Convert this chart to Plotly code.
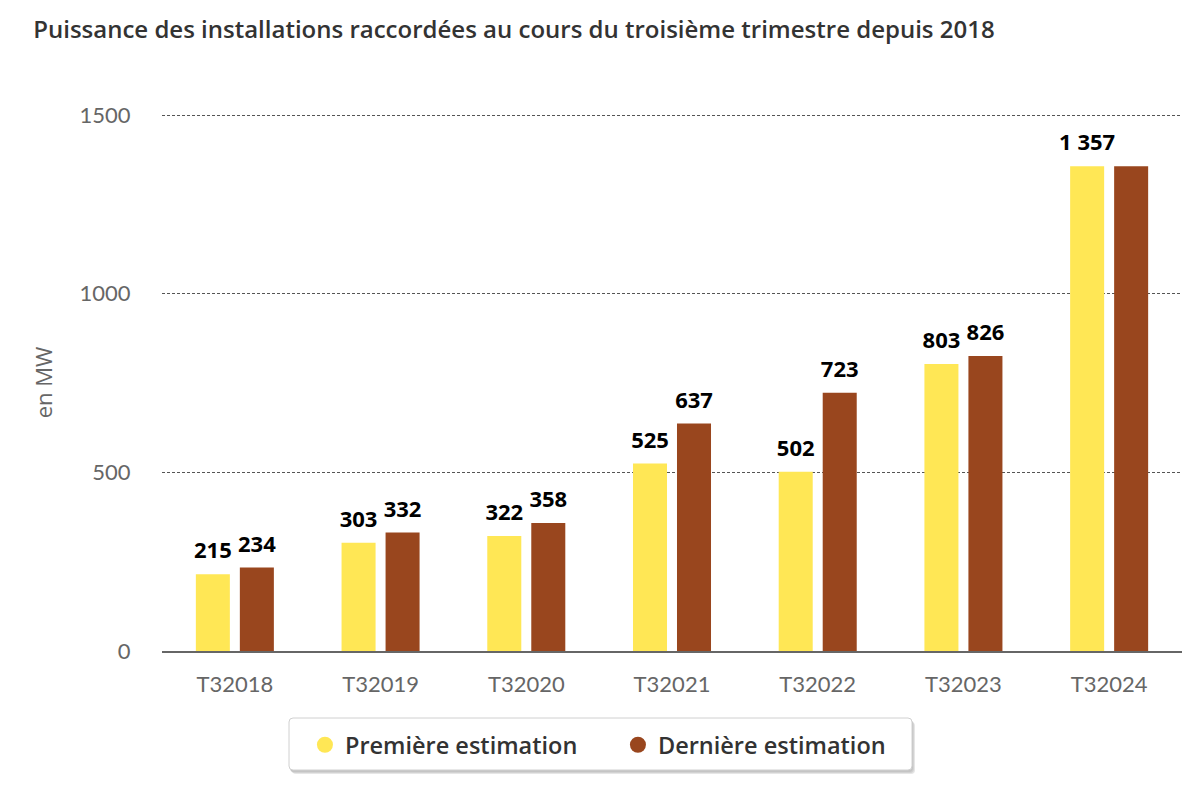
import plotly.graph_objects as go

categories = ["T32018", "T32019", "T32020", "T32021", "T32022", "T32023", "T32024"]
premiere = [215, 303, 322, 525, 502, 803, 1357]
derniere = [234, 332, 358, 637, 723, 826, 1357]
series_names = ["Première estimation", "Dernière estimation"]
colors = ["#FFE755", "#99461E"]


def fmt(v):
    return f"{v:,}".replace(",", " ")


prem_text = [fmt(v) for v in premiere]
# last brown label overlaps the yellow one in the reference, so it is hidden
dern_text = [fmt(v) if v != p else "" for v, p in zip(derniere, premiere)]

BARGAP = 0.396
fig = go.Figure()
for i, (name, vals, txt, col) in enumerate([
    (series_names[0], premiere, prem_text, colors[0]),
    (series_names[1], derniere, dern_text, colors[1]),
]):
    fig.add_trace(go.Bar(
        x=categories, y=vals, name=name, marker_color=col, marker_line_width=0,
        offsetgroup=str(i), showlegend=False, hoverinfo="x+y",
    ))
    # value labels, grouped like the bars
    fig.add_trace(go.Scatter(
        x=categories, y=vals, mode="markers+text", text=txt, textposition="top center",
        offsetgroup=str(i), cliponaxis=False, showlegend=False, hoverinfo="skip",
        marker=dict(size=15, color="rgba(0,0,0,0)"),
        textfont=dict(family="Open Sans", size=22, color="#000000", weight=700),
    ))
    # legend entries with round symbols
    fig.add_trace(go.Scatter(
        x=[None], y=[None], mode="markers", name=name,
        marker=dict(symbol="circle", size=23, color=col),
    ))

# legend frame (rounded, with a soft shadow), in plot-paper units
PL, PT, PW, PH = 154, 106, 1020, 537   # plot area in figure pixels


def rounded(x0, y0, x1, y1, r=4):
    X = lambda px: (px - PL) / PW
    Y = lambda py: (PT + PH - py) / PH
    return (f"M {X(x0 + r)},{Y(y0)} L {X(x1 - r)},{Y(y0)} Q {X(x1)},{Y(y0)} {X(x1)},{Y(y0 + r)} "
            f"L {X(x1)},{Y(y1 - r)} Q {X(x1)},{Y(y1)} {X(x1 - r)},{Y(y1)} "
            f"L {X(x0 + r)},{Y(y1)} Q {X(x0)},{Y(y1)} {X(x0)},{Y(y1 - r)} "
            f"L {X(x0)},{Y(y0 + r)} Q {X(x0)},{Y(y0)} {X(x0 + r)},{Y(y0)} Z")


for dx, dy, c in [(3, 4, "#E6E6E6"), (2, 3, "#D2D2D2"), (1, 2, "#C4C4C4")]:
    fig.add_shape(type="path", xref="paper", yref="paper", path=rounded(281 + dx, 710 + dy, 904 + dx, 762 + dy),
                  fillcolor=c, line_width=0, layer="below")
fig.add_shape(type="path", xref="paper", yref="paper", path=rounded(281, 710, 904, 762),
              fillcolor="white", line=dict(color="#D0D0D0", width=1), layer="below")

fig.update_layout(
    width=1200, height=800,
    paper_bgcolor="white", plot_bgcolor="white",
    margin=dict(l=PL, r=1200 - PL - PW, t=PT, b=800 - PT - PH, autoexpand=False),
    barmode="group", bargap=BARGAP, bargroupgap=0.227,
    scattermode="group", scattergap=BARGAP,
    title=dict(
        text="Puissance des installations raccordées au cours du troisième trimestre depuis 2018",
        x=0.021, xanchor="left", y=0.9725, yanchor="middle",
        font=dict(family="Open Sans", size=24, color="#333333", weight=600),
    ),
    font=dict(family="Open Sans", color="#666666"),
    legend=dict(
        orientation="h", x=0.447, xanchor="center", y=-0.175, yanchor="middle",
        bgcolor="rgba(0,0,0,0)", borderwidth=0,
        font=dict(family="Open Sans", size=23.5, color="#333333", weight=600),
        entrywidth=268, itemsizing="trace",
    ),
)

fig.update_yaxes(
    range=[0, 1503], tickvals=[0, 500, 1000, 1500],
    showgrid=True, gridcolor="#555555", griddash="3px,2px", gridwidth=1,
    zeroline=False, showline=False, automargin=False,
    tickfont=dict(family="Lato", size=22, color="#666666"),
    ticks="outside", ticklen=26, tickcolor="rgba(0,0,0,0)",
    title=dict(text="en MW", font=dict(family="Open Sans", size=22, color="#666666"), standoff=20),
)
fig.update_xaxes(
    showline=True, linecolor="#666666", linewidth=2,
    showgrid=False, automargin=False,
    tickfont=dict(family="Lato", size=22, color="#666666"),
    ticks="outside", ticklen=13, tickcolor="rgba(0,0,0,0)",
)

fig.write_html("out.html")
